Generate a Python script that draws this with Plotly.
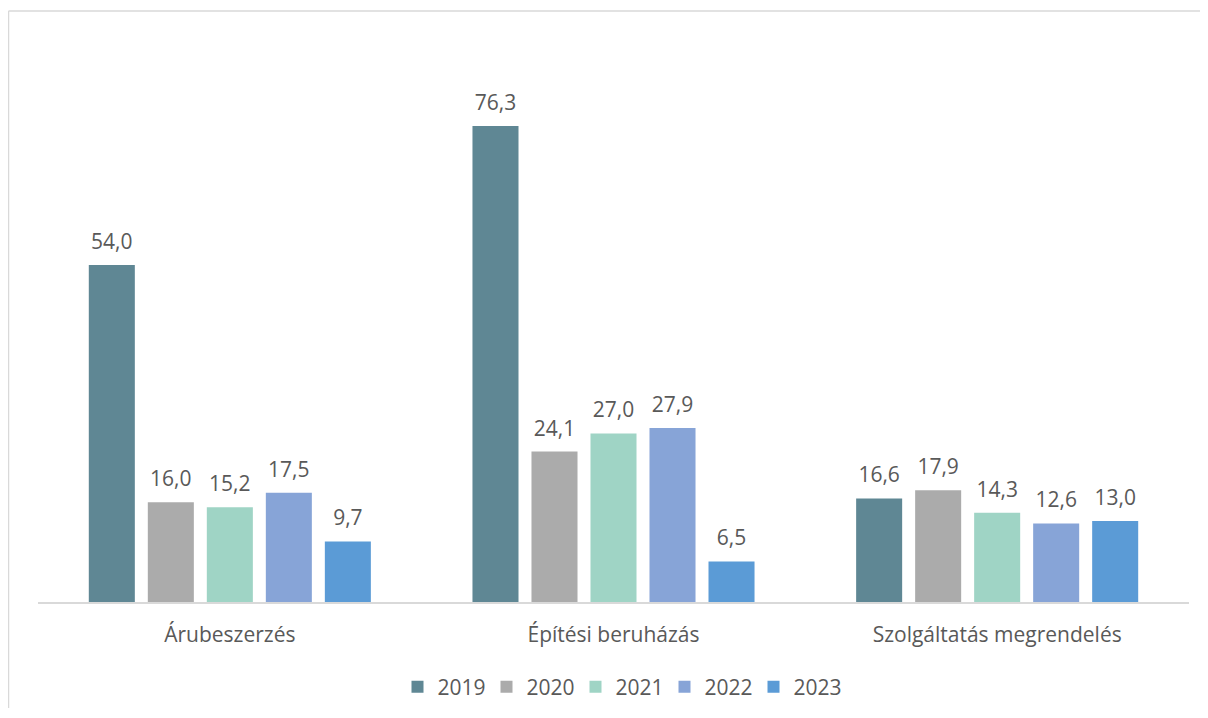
import plotly.graph_objects as go

categories = ['Árubeszerzés', 'Építési beruházás', 'Szolgáltatás megrendelés']
years = ['2019', '2020', '2021', '2022', '2023']
v2019 = [54.0, 76.3, 16.6]
v2020 = [16.0, 24.1, 17.9]
v2021 = [15.2, 27.0, 14.3]
v2022 = [17.5, 27.9, 12.6]
v2023 = [9.7, 6.5, 13.0]
colors = ['#5F8794', '#ABABAB', '#9FD4C5', '#87A4D7', '#5B9BD6']

series = [v2019, v2020, v2021, v2022, v2023]
fig = go.Figure()
for yr, vals, col in zip(years, series, colors):
    # the small blank second line lifts the label a bit above the bar
    fig.add_trace(go.Bar(
        x=categories, y=vals, name=yr, marker=dict(color=col, line=dict(width=0)),
        text=["<span style='font-size:21px'>" + f'{v:.1f}'.replace('.', ',') + '</span><br> ' for v in vals],
        textposition='outside', cliponaxis=False, constraintext='none',
        textfont=dict(size=8.5, color='#595959')))

# page has an 8px body margin, so keep the figure inside the window
W, H = 1192, 700
ml, mr, mt, mb = 30, 11, 32, 106
pw, ph = W - ml - mr, H - mt - mb
border = dict(color='#D9D9D9', width=1.5)
fig.update_layout(
    width=W, height=H, barmode='group', bargap=0.231, bargroupgap=0.22,
    margin=dict(l=ml, r=mr, t=mt, b=mb),
    paper_bgcolor='white', plot_bgcolor='white',
    font=dict(family='Open Sans, sans-serif', size=21, color='#595959'),
    xaxis=dict(showline=True, linecolor='#D9D9D9', linewidth=1.5, ticks='',
               ticklabelstandoff=13, tickfont=dict(size=21, color='#595959')),
    yaxis=dict(range=[0, ph / 6.24], visible=False, showgrid=False),
    legend=dict(orientation='h', xref='container', yref='container',
                x=612 / W, xanchor='center', y=1 - 679 / H, yanchor='middle',
                font=dict(size=21, color='#595959'),
                itemwidth=30, entrywidth=44, entrywidthmode='pixels'),
    showlegend=True,
    shapes=[dict(type='line', xref='paper', yref='paper',
                 x0=(0.5 - ml) / pw, x1=(W + 5 - ml) / pw,
                 y0=(ph - (3 - mt)) / ph, y1=(ph - (3 - mt)) / ph, line=border, layer='below'),
            dict(type='line', xref='paper', yref='paper',
                 x0=(0.5 - ml) / pw, x1=(0.5 - ml) / pw,
                 y0=(ph - (H + 5 - mt)) / ph, y1=(ph - (3 - mt)) / ph, line=border, layer='below')],
)
fig.write_html('out.html')
